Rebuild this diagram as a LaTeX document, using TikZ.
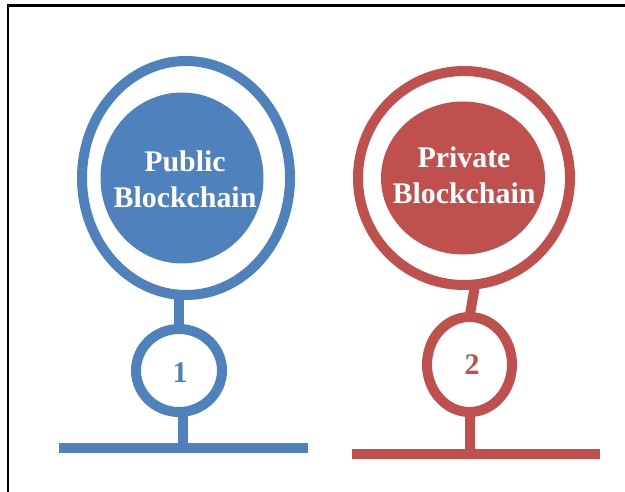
\documentclass[tikz,border=0pt]{standalone}
\usepackage{fontspec}
\setmainfont{Liberation Serif}
\usetikzlibrary{shapes.geometric}
\definecolor{pubblue}{HTML}{4F81BD}
\definecolor{privred}{HTML}{C0504D}
\tikzset{
  ring/.style={ellipse, draw=#1, line width=10bp, inner sep=0pt, outer sep=0pt},
  core/.style={ellipse, fill=#1, inner sep=0pt, outer sep=0pt},
  coretext/.style={text=white, align=center, inner sep=0pt,
    font=\fontsize{30}{36}\selectfont\bfseries},
  numring/.style={ellipse, draw=#1, line width=10bp, inner sep=0pt, outer sep=0pt},
  numtext/.style={text=#1, inner sep=0pt, font=\fontsize{30}{32}\selectfont\bfseries},
  stem/.style={draw=#1, line width=10bp},
  bar/.style={draw=#1, line width=10bp, line cap=butt},
  frame/.style={draw=black, line width=2.5bp}
}
\begin{document}
\begin{tikzpicture}[x=1bp,y=1bp]
\useasboundingbox (0,0) rectangle (625,-492);
% frame (top and left)
\coordinate (fTR) at (625,-5.5);
\coordinate (fTL) at (8,-5.5);
\coordinate (fBL) at (8,-492);
\draw[frame] (fTR) -- (fTL) -- (fBL);

% ---- Public blockchain (blue)
\node[ring=pubblue, minimum width=208bp, minimum height=234bp] (bring) at (186,-178) {};
\node[core=pubblue, minimum width=163bp, minimum height=171bp] (bcore) at (182,-178) {};
\node[coretext] (btext) at (185,-179) {Public\\Blockchain};
\node[numring=pubblue, minimum width=86bp, minimum height=83bp] (bsmall) at (179,-370.5) {};
\node[numtext=pubblue] (bnum) at (180,-373) {1};
\coordinate (bbarL) at (59,-448);
\coordinate (bbarR) at (308,-448);
\draw[stem=pubblue] (bsmall.north) -- (bsmall.north |- bring.south);
\draw[stem=pubblue] ([xshift=4bp]bsmall.south) -- ([xshift=4bp]bsmall.south |- bbarL);
\draw[bar=pubblue] (bbarL) -- (bbarR);

% ---- Private blockchain (red)
\node[ring=privred, minimum width=212bp, minimum height=214bp] (rring) at (464,-178) {};
\node[core=privred, minimum width=164bp, minimum height=153bp] (rcore) at (463,-178) {};
\node[coretext] (rtext) at (464,-175) {Private\\Blockchain};
\node[numring=privred, minimum width=85bp, minimum height=95bp] (rsmall) at (469.5,-364.5) {};
\node[numtext=privred] (rnum) at (472,-365) {2};
\coordinate (rbarL) at (352,-454);
\coordinate (rbarR) at (600,-454);
\draw[stem=privred] (rring.-84.7) -- (rsmall.north);
\draw[stem=privred] (rsmall.south) -- (rsmall.south |- rbarL);
\draw[bar=privred] (rbarL) -- (rbarR);
\end{tikzpicture}
\end{document}
